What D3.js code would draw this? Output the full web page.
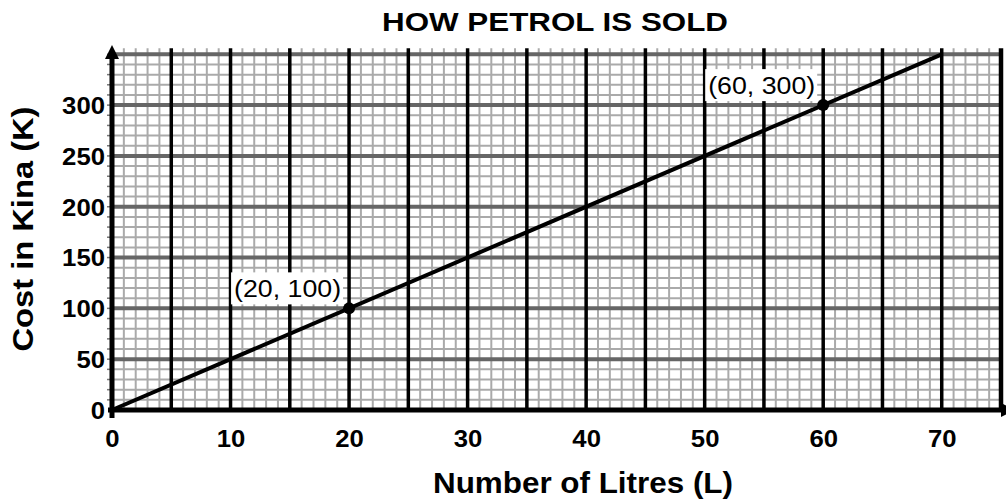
<!DOCTYPE html>
<html>
<head>
<meta charset="utf-8">
<script src="https://cdn.jsdelivr.net/npm/d3@7"></script>
<style>
  html, body { margin: 0; padding: 0; background: #fff; }
  svg { display: block; }
  text { font-family: "Liberation Sans", Arial, sans-serif; }
</style>
</head>
<body>
<svg id="chart" width="1006" height="499"></svg>
<script>
// Petrol price: cost rises 5 kina for every litre
const lineLitres = [0, 70];
const lineCost = [0, 350];
const pointLitres = [20, 60];
const pointCost = [100, 300];
const pointLabels = ["(20, 100)", "(60, 300)"];
const xTickValues = [0, 10, 20, 30, 40, 50, 60, 70];
const yTickValues = [0, 50, 100, 150, 200, 250, 300];
const xMax = 75;
const yMax = 350;

const svg = d3.select("#chart");

const x = d3.scaleLinear().domain([0, xMax]).range([112, 1001]);
const y = d3.scaleLinear().domain([0, yMax]).range([410, 54.3]);
const gridTop = y(356);

// Graph-paper grid
const grid = svg.append("g");
grid.selectAll(".minor-v")
  .data(d3.range(0, xMax + 1, 1).filter(v => v % 5 !== 0))
  .join("line")
  .attr("x1", d => x(d)).attr("x2", d => x(d))
  .attr("y1", gridTop).attr("y2", y(0))
  .attr("stroke", "#aaa").attr("stroke-width", 2);
grid.selectAll(".minor-h")
  .data(d3.range(10, yMax + 1, 10).filter(v => v % 50 !== 0))
  .join("line")
  .attr("x1", x(0)).attr("x2", x(xMax))
  .attr("y1", d => y(d)).attr("y2", d => y(d))
  .attr("stroke", "#aaa").attr("stroke-width", 2);
grid.selectAll(".major-h")
  .data(d3.range(50, yMax + 1, 50))
  .join("line")
  .attr("x1", x(0)).attr("x2", x(xMax))
  .attr("y1", d => y(d)).attr("y2", d => y(d))
  .attr("stroke", "#666").attr("stroke-width", 4);
grid.selectAll(".major-v")
  .data(d3.range(5, xMax + 1, 5))
  .join("line")
  .attr("x1", d => x(d)).attr("x2", d => x(d))
  .attr("y1", gridTop).attr("y2", y(0))
  .attr("stroke", "#000").attr("stroke-width", d => d === xMax ? 4.5 : 3.5);

// Small ticks to the left of the y axis
svg.append("g").selectAll("line")
  .data(d3.range(10, yMax + 1, 10))
  .join("line")
  .attr("x1", x(0) - 5).attr("x2", x(0))
  .attr("y1", d => y(d)).attr("y2", d => y(d))
  .attr("stroke", "#777").attr("stroke-width", 1.5);

// Axes lines with arrowheads
svg.append("line")
  .attr("x1", x(0) - 4).attr("x2", x(xMax))
  .attr("y1", y(0)).attr("y2", y(0))
  .attr("stroke", "#000").attr("stroke-width", 5);
svg.append("line")
  .attr("x1", x(0)).attr("x2", x(0))
  .attr("y1", y(0) + 8).attr("y2", 58)
  .attr("stroke", "#000").attr("stroke-width", 5);
svg.append("path")
  .attr("d", `M${x(0)},45 L${x(0) + 7},59 L${x(0) - 7},59 Z`)
  .attr("fill", "#000");
svg.append("path")
  .attr("d", `M${x(xMax)},${y(0) - 7} L${x(xMax) + 14},${y(0)} L${x(xMax)},${y(0) + 7} Z`)
  .attr("fill", "#000");

// Tick labels via d3 axes
const xAxis = svg.append("g")
  .attr("transform", `translate(0,${y(0)})`)
  .call(d3.axisBottom(x).tickValues(xTickValues).tickSize(0).tickPadding(21).tickFormat(d3.format("d")));
const yAxis = svg.append("g")
  .attr("transform", `translate(${x(0)},0)`)
  .call(d3.axisLeft(y).tickValues(yTickValues).tickSize(0).tickPadding(7).tickFormat(d3.format("d")));
[xAxis, yAxis].forEach(g => {
  g.select(".domain").remove();
  g.selectAll("text")
    .attr("fill", "#000")
    .style("font-family", "'Liberation Sans', Arial, sans-serif")
    .style("font-size", "23px")
    .style("font-weight", "bold")
    .attr("textLength", d => String(d).length * 14.3)
    .attr("lengthAdjust", "spacingAndGlyphs");
});
yAxis.selectAll("text").attr("dy", "0.36em");

// Cost line
const lineData = d3.zip(lineLitres, lineCost);
svg.append("path")
  .datum(lineData)
  .attr("d", d3.line().x(d => x(d[0])).y(d => y(d[1])))
  .attr("fill", "none")
  .attr("stroke", "#000")
  .attr("stroke-width", 4);

// Marked points with their coordinate labels
const pts = d3.zip(pointLitres, pointCost, pointLabels);
const lbl = svg.append("g").selectAll("g").data(pts).join("g");
lbl.append("rect")
  .attr("x", d => x(d[0]) - 118)
  .attr("y", d => y(d[1]) - 36)
  .attr("width", 112)
  .attr("height", 32)
  .attr("fill", "#fff");
lbl.append("text")
  .attr("x", d => x(d[0]) - 8)
  .attr("y", d => y(d[1]) - 11)
  .attr("text-anchor", "end")
  .attr("textLength", 107)
  .attr("lengthAdjust", "spacingAndGlyphs")
  .style("font-size", "23px")
  .attr("fill", "#000")
  .text(d => d[2]);
svg.append("g").selectAll("circle").data(pts).join("circle")
  .attr("cx", d => x(d[0]))
  .attr("cy", d => y(d[1]))
  .attr("r", 6)
  .attr("fill", "#000");

// Titles
svg.append("text")
  .attr("x", 555).attr("y", 31)
  .attr("text-anchor", "middle")
  .attr("textLength", 346).attr("lengthAdjust", "spacingAndGlyphs")
  .style("font-size", "26px").style("font-weight", "bold")
  .text("HOW PETROL IS SOLD");
svg.append("text")
  .attr("x", 583).attr("y", 493)
  .attr("text-anchor", "middle")
  .attr("textLength", 300).attr("lengthAdjust", "spacingAndGlyphs")
  .style("font-size", "29px").style("font-weight", "bold")
  .text("Number of Litres (L)");
svg.append("text")
  .attr("transform", "translate(33,229) rotate(-90)")
  .attr("text-anchor", "middle")
  .attr("textLength", 245).attr("lengthAdjust", "spacingAndGlyphs")
  .style("font-size", "30px").style("font-weight", "bold")
  .text("Cost in Kina (K)");
</script>
</body>
</html>
